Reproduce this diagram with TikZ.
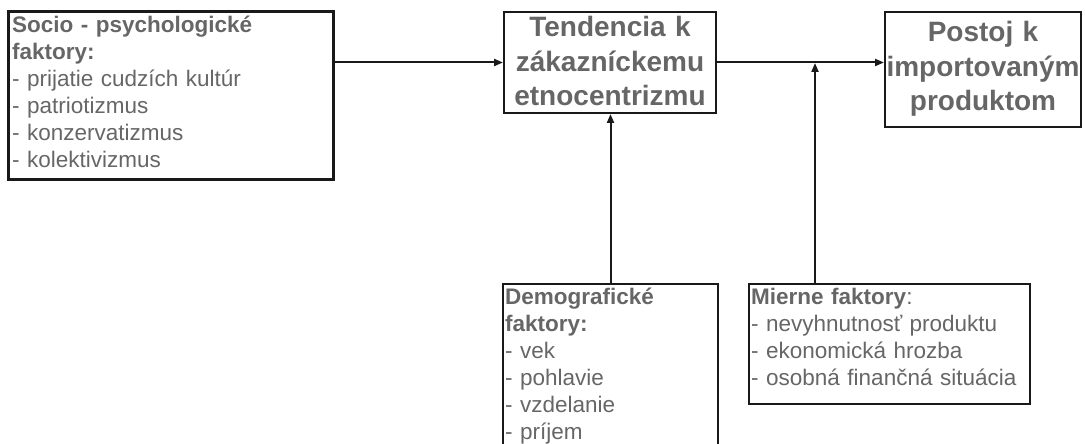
\documentclass[tikz,border=0pt]{standalone}
\usepackage{fontspec}
\setmainfont{Liberation Sans}
\usetikzlibrary{arrows.meta}
\definecolor{txtgray}{RGB}{102,102,102}
\definecolor{edge}{RGB}{25,25,25}
\begin{document}
\begin{tikzpicture}[x=1bp,y=-1bp,
  box/.style={draw=edge,line width=2bp,fill=none,inner sep=0,minimum width=#1},
  thickbox/.style={box=#1,line width=3bp},
  listtext/.style={inner sep=0,anchor=base west,align=left,text width=300bp,text=txtgray,
    font=\fontsize{22.5bp}{27bp}\selectfont},
  titletext/.style={inner sep=0,anchor=base,align=center,text width=220bp,text=txtgray,
    font=\fontsize{28bp}{34.5bp}\selectfont\bfseries},
  conn/.style={draw=edge,line width=2bp,-{Triangle[length=9bp,width=7bp]}}]
\useasboundingbox (0,0) rectangle (1085,444);
% boxes
\node[thickbox=324bp,minimum height=168bp] (socio) at (171,96) {};
\node[box=212bp,minimum height=101bp] (tend) at (610,62.5) {};
\node[box=196bp,minimum height=115bp] (post) at (983,69.5) {};
\node[box=215bp,minimum height=185bp] (demo) at (610.5,376.5) {};
\node[box=281bp,minimum height=120bp] (mier) at (889.5,344) {};
% texts
\node[listtext] (sociotxt) at (12,33) {\textbf{Socio - psychologické}\\\textbf{faktory:}\\- prijatie cudzích kultúr\\- patriotizmus\\- konzervatizmus\\- kolektivizmus};
\node[titletext] (tendtxt) at (610,37) {Tendencia k\\zákazníckemu\\etnocentrizmu};
\node[titletext] (posttxt) at (983,42) {Postoj k\\importovaným\\produktom};
\node[listtext] (demotxt) at (505,305) {\textbf{Demografické}\\\textbf{faktory:}\\- vek\\- pohlavie\\- vzdelanie\\- príjem};
\node[listtext] (miertxt) at (751,305) {\textbf{Mierne faktory}:\\- nevyhnutnosť produktu\\- ekonomická hrozba\\- osobná finančná situácia};
% connectors
\coordinate (j) at (815,63);
\draw[conn] (socio.east |- tend.west) -- (tend.west);
\draw[conn] (tend.east) -- (tend.east -| post.west);
\draw[conn] (j |- mier.north) -- (j);
\draw[conn] (demo.north) -- (demo.north |- tend.south);
\end{tikzpicture}
\end{document}
